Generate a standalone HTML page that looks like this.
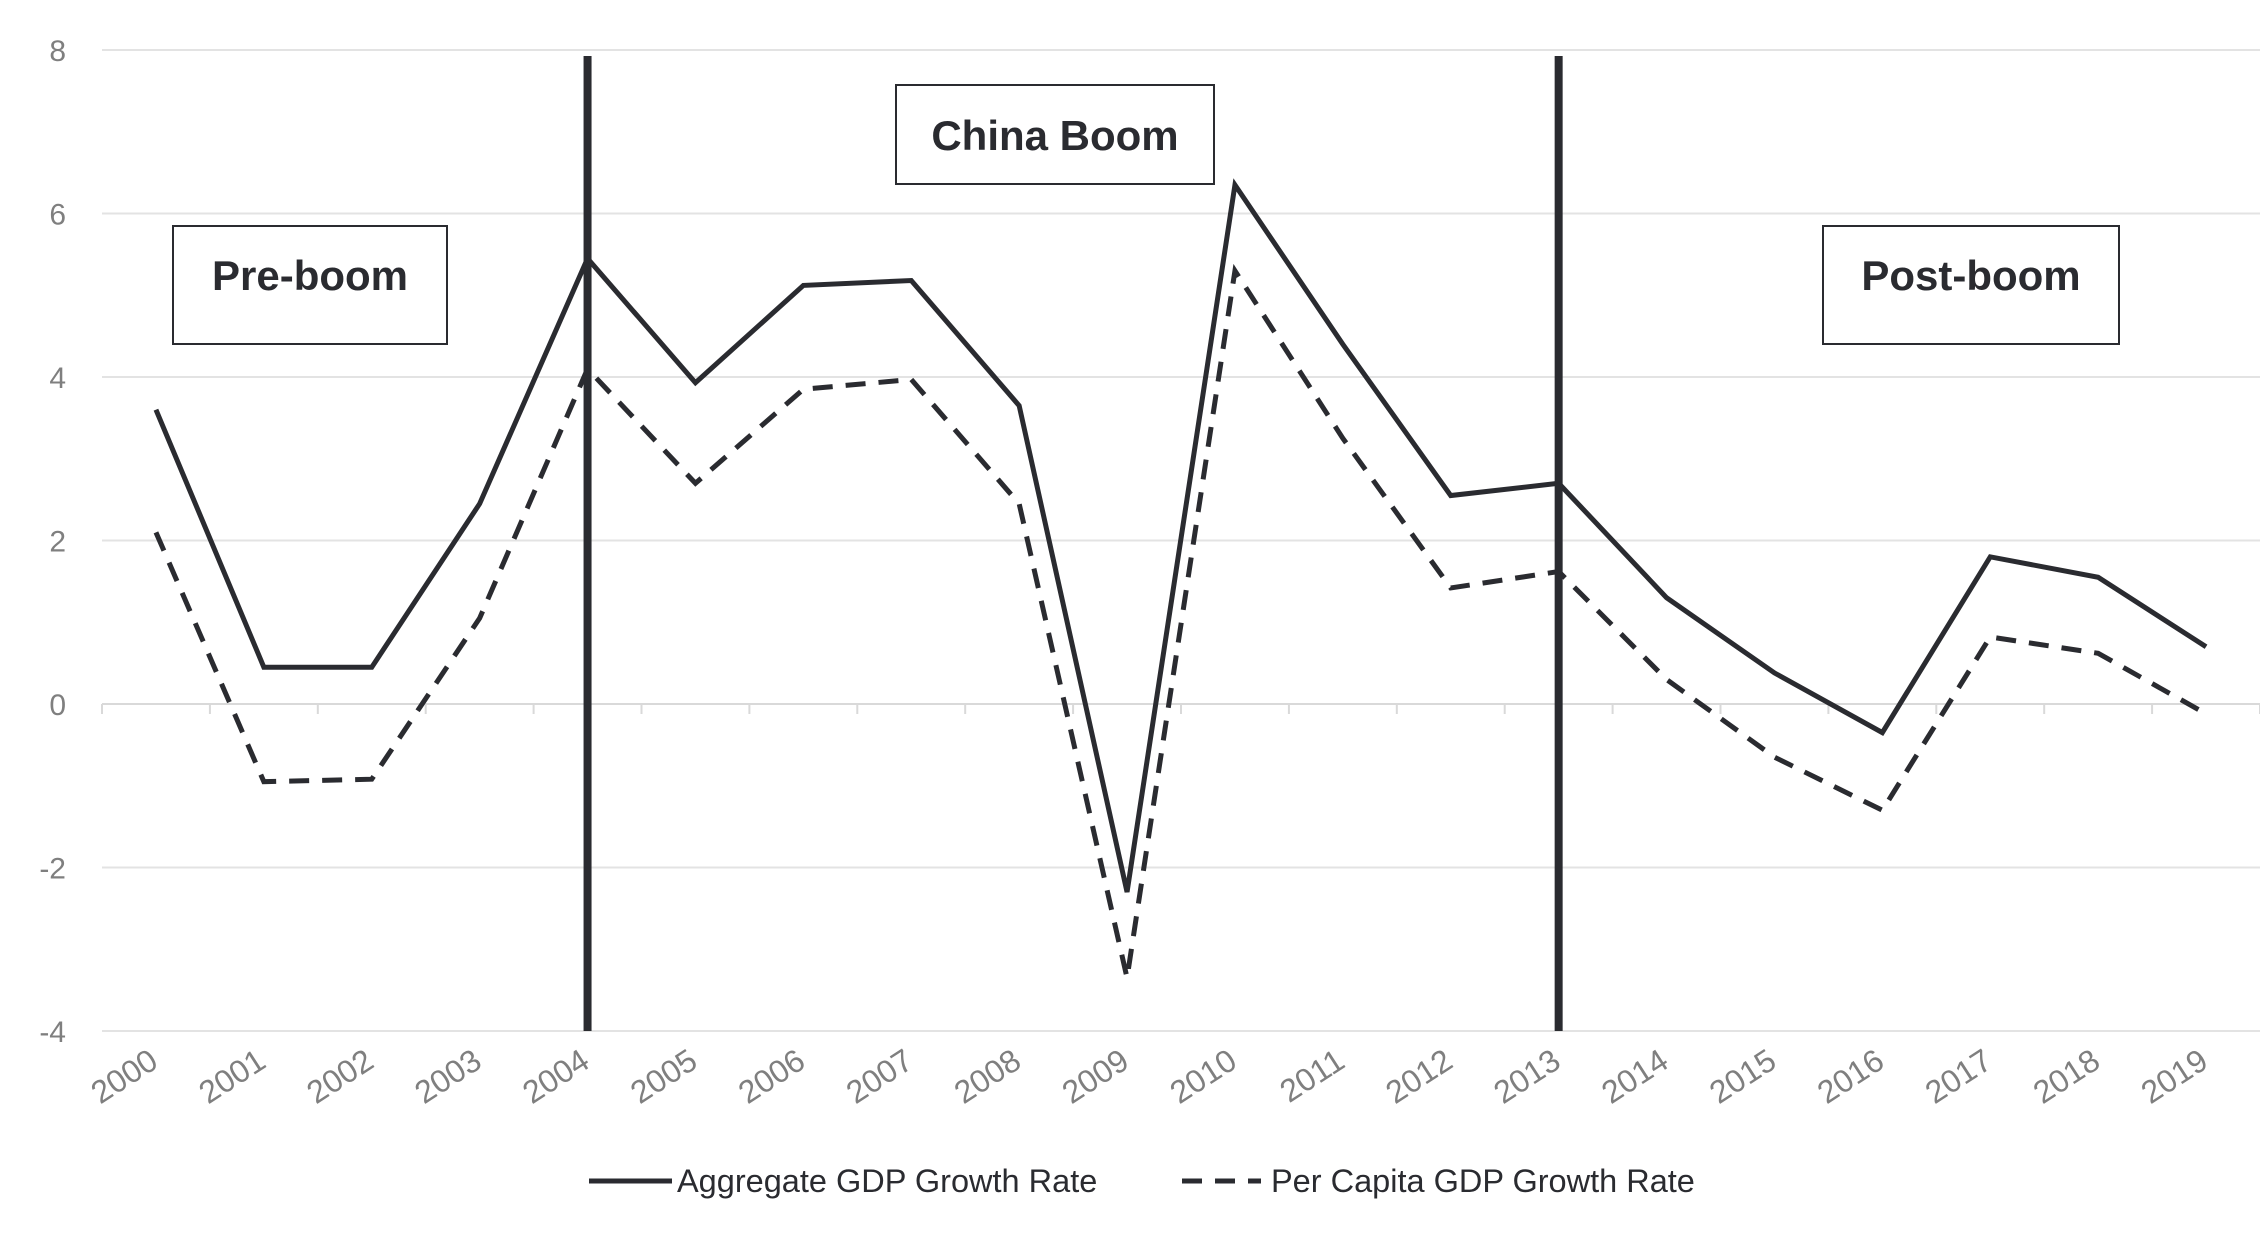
<!DOCTYPE html>
<html><head><meta charset="utf-8"><style>
html,body{margin:0;padding:0;background:#fff;}
svg{display:block;font-family:"Liberation Sans",sans-serif;}
</style></head><body>
<svg id="chart" width="2260" height="1242" xmlns="http://www.w3.org/2000/svg">
<g id="grid"></g>
<g id="ylabels"></g>
<g id="xlabels"></g>
<g id="series"></g>
<g id="vlines"></g>
<g>
<rect x="173" y="226" width="274" height="118" fill="#fff" stroke="#2a2b30" stroke-width="2"/>
<text x="310" y="290" text-anchor="middle" font-size="42" font-weight="bold" fill="#2a2b30">Pre-boom</text></g>
<g>
<rect x="896" y="85" width="318" height="99" fill="#fff" stroke="#2a2b30" stroke-width="2"/>
<text x="1055" y="150" text-anchor="middle" font-size="42" font-weight="bold" fill="#2a2b30">China Boom</text></g>
<g>
<rect x="1823" y="226" width="296" height="118" fill="#fff" stroke="#2a2b30" stroke-width="2"/>
<text x="1971" y="290" text-anchor="middle" font-size="42" font-weight="bold" fill="#2a2b30">Post-boom</text></g>
<g>
<g>
<line x1="589" y1="1181" x2="672" y2="1181" stroke="#2a2b30" stroke-width="5"/>
<text x="677" y="1192" font-size="32.5" fill="#2a2b30">Aggregate GDP Growth Rate</text></g>
<g>
<line x1="1182" y1="1181" x2="1261" y2="1181" stroke="#2a2b30" stroke-width="5" stroke-dasharray="20,13"/>
<text x="1271" y="1192" font-size="32.5" fill="#2a2b30">Per Capita GDP Growth Rate</text></g>
</g>
</svg>
<script>
const years = ["2000","2001","2002","2003","2004","2005","2006","2007","2008","2009","2010","2011","2012","2013","2014","2015","2016","2017","2018","2019"];
const aggregate = [3.6,0.45,0.45,2.45,5.45,3.93,5.12,5.18,3.65,-2.3,6.35,4.4,2.55,2.7,1.3,0.38,-0.35,1.8,1.55,0.7];
const perCapita = [2.1,-0.95,-0.92,1.05,4.1,2.7,3.85,3.97,2.45,-3.35,5.3,3.25,1.42,1.62,0.3,-0.65,-1.3,0.82,0.62,-0.12];
const yTicks = [8,6,4,2,0,-2,-4];
const dividers = ["2004","2013"];
const NS="http://www.w3.org/2000/svg";
const L=102,R=2260,yTop=50,yBot=1031,yMax=8,yMin=-4;
const band=(R-L)/years.length;
const x=i=>L+band*(i+0.5);
const y=v=>yTop+(yMax-v)/(yMax-yMin)*(yBot-yTop);
function mk(t,a,p){const e=document.createElementNS(NS,t);for(const k in a)e.setAttribute(k,a[k]);p.appendChild(e);return e;}
const grid=document.getElementById('grid'),yl=document.getElementById('ylabels'),xl=document.getElementById('xlabels');
yTicks.forEach(v=>{
 const g=mk('line',{x1:L,x2:R,y1:y(v),y2:y(v),stroke:v===0?'#d9d9d9':'#e3e3e3','stroke-width':2},grid);
 
 
 const t=mk('text',{x:66,y:y(v)+11,'text-anchor':'end','font-size':30,fill:'#7f7f7f'},yl);
 t.textContent=v;
 
 
});
for(let i=0;i<=years.length;i++){
 const tk=mk('line',{x1:L+band*i,x2:L+band*i,y1:y(0),y2:y(0)+10,stroke:'#d9d9d9','stroke-width':2},grid);
 
 
}
years.forEach((yr,i)=>{
 const cx=x(i)+4,cy=1066;
 const t=mk('text',{x:cx,y:cy,'text-anchor':'end','font-size':32,fill:'#7f7f7f',transform:`rotate(-33 ${cx} ${cy})`},xl);
 t.textContent=yr;
 
 
});
const s=document.getElementById('series');
const pts=arr=>arr.map((v,i)=>x(i)+','+y(v)).join(' ');
const p1=mk('polyline',{points:pts(aggregate),fill:'none',stroke:'#2a2b30','stroke-width':5,'stroke-linejoin':'miter'},s);


const p2=mk('polyline',{points:pts(perCapita),fill:'none',stroke:'#2a2b30','stroke-width':5,'stroke-dasharray':'20,13'},s);


const vl=document.getElementById('vlines');
dividers.forEach(d=>{
 const i=years.indexOf(d);
 const l=mk('line',{x1:x(i),x2:x(i),y1:56,y2:yBot,stroke:'#2a2b30','stroke-width':8},vl);
 
 
});
</script>
</body></html>
